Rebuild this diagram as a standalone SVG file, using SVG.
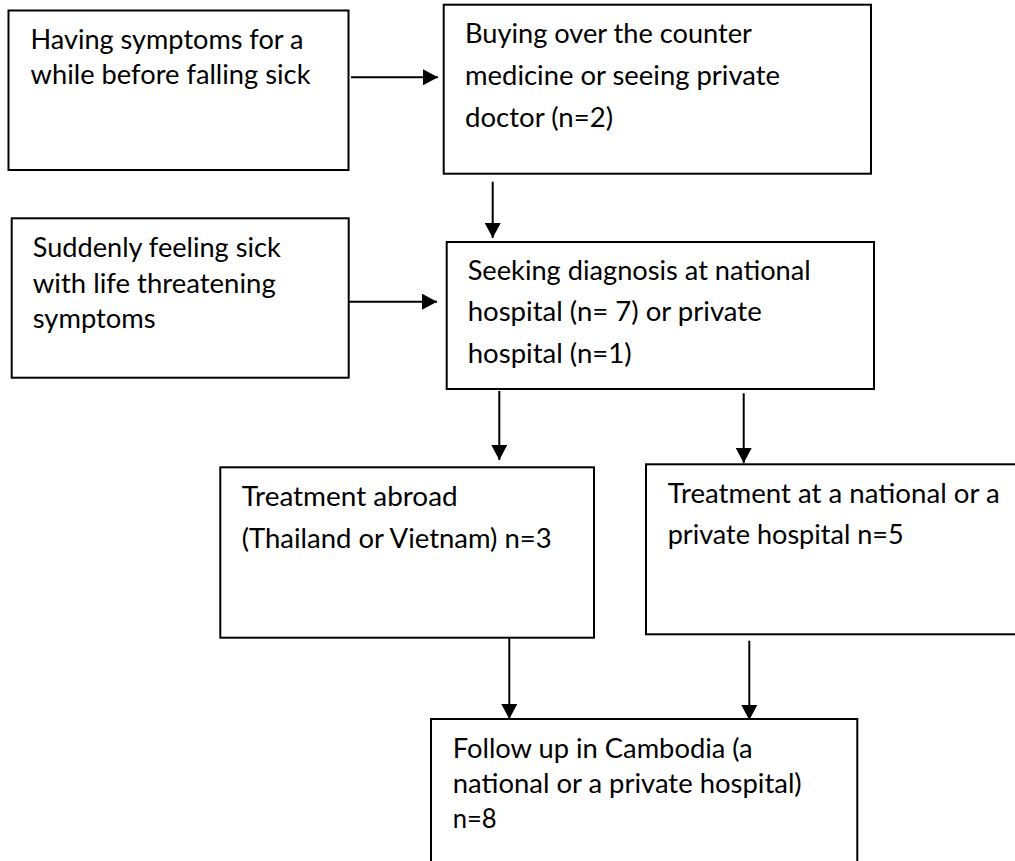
<svg xmlns="http://www.w3.org/2000/svg" width="1015" height="861" viewBox="0 0 1015 861">
<style>
.box{fill:#fff;stroke:#000;stroke-width:2}
.t{font-family:Lato,"Open Sans","Liberation Sans",sans-serif;font-size:26px;fill:#000}
.c{stroke:#000;stroke-width:2;fill:none;marker-end:url(#ah)}
</style>
<defs>
<marker id="ah" markerUnits="userSpaceOnUse" markerWidth="16" markerHeight="16" refX="15" refY="8" orient="auto">
<path d="M0,0 L15,8 L0,16 z" fill="#000"/>
</marker>
</defs>
<rect width="1015" height="861" fill="#fff"/>
<g id="connectors">
<line class="c" x1="351" y1="77.3" x2="438" y2="77.3"/>
<line class="c" x1="492.7" y1="181.7" x2="492.7" y2="238"/>
<line class="c" x1="348.7" y1="301.7" x2="437" y2="301.7"/>
<line class="c" x1="499.3" y1="391" x2="499.3" y2="460"/>
<line class="c" x1="743.7" y1="393.3" x2="743.7" y2="463"/>
<line class="c" x1="509.3" y1="638.3" x2="509.3" y2="719"/>
<line class="c" x1="749.3" y1="640.7" x2="749.3" y2="720"/>
</g>
<g id="n1">
<rect class="box" x="8.5" y="10.5" width="340" height="159.5"/>
<text class="t" x="30.5" y="49.3" textLength="273" lengthAdjust="spacingAndGlyphs">Having symptoms for a</text>
<text class="t" x="30.5" y="84" textLength="280" lengthAdjust="spacingAndGlyphs">while before falling sick</text>
</g>
<g id="n2">
<rect class="box" x="443.7" y="4.7" width="427.3" height="169"/>
<text class="t" x="465" y="43.3" textLength="287" lengthAdjust="spacingAndGlyphs">Buying over the counter</text>
<text class="t" x="465" y="85" textLength="315" lengthAdjust="spacingAndGlyphs">medicine or seeing private</text>
<text class="t" x="465" y="126.5" textLength="148" lengthAdjust="spacingAndGlyphs">doctor (n=2)</text>
</g>
<g id="n3">
<rect class="box" x="11.7" y="218.3" width="337" height="159.4"/>
<text class="t" x="32.7" y="257.3" textLength="248" lengthAdjust="spacingAndGlyphs">Suddenly feeling sick</text>
<text class="t" x="32.7" y="293.3" textLength="243" lengthAdjust="spacingAndGlyphs">with life threatening</text>
<text class="t" x="32.7" y="328.3" textLength="123" lengthAdjust="spacingAndGlyphs">symptoms</text>
</g>
<g id="n4">
<rect class="box" x="446.7" y="242" width="427.3" height="147"/>
<text class="t" x="467.7" y="280" textLength="343" lengthAdjust="spacingAndGlyphs">Seeking diagnosis at national</text>
<text class="t" x="467.7" y="321" textLength="294" lengthAdjust="spacingAndGlyphs">hospital (n= 7) or private</text>
<text class="t" x="467.7" y="362.7" textLength="164" lengthAdjust="spacingAndGlyphs">hospital (n=1)</text>
</g>
<g id="n5">
<rect class="box" x="220.3" y="467.3" width="373.7" height="170.4"/>
<text class="t" x="241.7" y="506" textLength="216" lengthAdjust="spacingAndGlyphs">Treatment abroad</text>
<text class="t" x="241.7" y="548.3" textLength="310" lengthAdjust="spacingAndGlyphs">(Thailand or Vietnam) n=3</text>
</g>
<g id="n6">
<rect class="box" x="646" y="464.3" width="380" height="170"/>
<text class="t" x="667.7" y="502.7" textLength="332" lengthAdjust="spacingAndGlyphs">Treatment at a national or a</text>
<text class="t" x="667.7" y="544.3" textLength="236" lengthAdjust="spacingAndGlyphs">private hospital n=5</text>
</g>
<g id="n7">
<rect class="box" x="431" y="719" width="426.3" height="160"/>
<text class="t" x="452.7" y="757.7" textLength="300" lengthAdjust="spacingAndGlyphs">Follow up in Cambodia (a</text>
<text class="t" x="452.7" y="792.7" textLength="349" lengthAdjust="spacingAndGlyphs">national or a private hospital)</text>
<text class="t" x="452.7" y="828.3" textLength="44" lengthAdjust="spacingAndGlyphs">n=8</text>
</g>
</svg>
